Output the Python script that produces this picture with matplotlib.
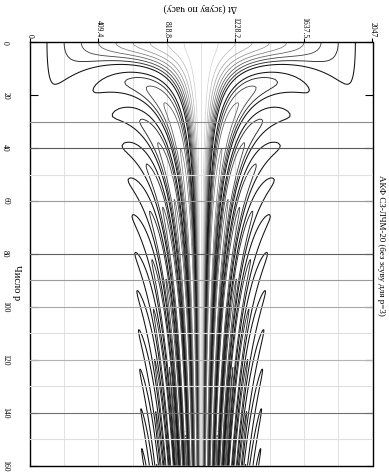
import numpy as np
import matplotlib
matplotlib.use("Agg")
import matplotlib.pyplot as plt

# signal length and the range of the modulation number p
N = 1024
p_values = np.arange(0, 161)
beta_cos = 0.073   # sinusoidal phase term, rad per unit p
k_lfm = 0.04       # linear FM term, fraction of pi per unit p

levels = [0.1, 0.2, 0.3, 0.4, 0.5, 0.6, 0.7, 0.8, 0.9]

x_ticks = [0, 409.4, 818.8, 1228.2, 1637.5, 2047]
x_ticklabels = ["0", "409.4", "818.8", "1228.2", "1637.5", "2047"]
y_ticks = [0, 20, 40, 60, 80, 100, 120, 140, 160]
v_grid = [204.7, 409.4, 614.1, 818.8, 1023.5, 1228.2, 1432.9, 1637.5, 1842.3]
h_grid = [30, 40, 50, 60, 80, 90, 100, 110, 120, 130, 140, 150]

xlabel = "Δt (зсуву по часу)"
ylabel = "Число р"
title = "АКФ СЗ-ЛЧМ-20 (без зсуву для р=3)"


def acf_rows():
    n = np.arange(N)
    u = 2.0 * n / N - 1.0
    rows = []
    for p in p_values:
        phase = beta_cos * p * np.cos(2 * np.pi * n / N) + np.pi * k_lfm * p * u ** 2
        s = np.exp(1j * phase)
        S = np.fft.fft(s, 4 * N)
        r = np.fft.ifft(np.abs(S) ** 2)
        r = np.concatenate([r[-(N - 1):], r[:N]])
        rows.append(np.abs(r) / N)
    return np.array(rows)


plt.rcParams["font.family"] = ["Liberation Serif", "DejaVu Serif"]

fig = plt.figure(figsize=(3.89, 4.72), dpi=100)
ax = fig.add_axes([30 / 389, 1 - 465.5 / 472, 342.5 / 389, 423 / 472])

lags = np.arange(2 * N - 1)
Z = acf_rows()

# light grid under the contours
for gx in v_grid:
    ax.axvline(gx, color="#dcdcdc", lw=0.6, zorder=0)
shades = {30: "#8c8c8c", 40: "#5a5a5a", 50: "#e0e0e0", 60: "#9a9a9a", 80: "#606060",
          90: "#9a9a9a", 100: "#a8a8a8", 110: "#dedede", 120: "#b4b4b4", 130: "#dedede",
          140: "#707070", 150: "#dedede"}
for gy in h_grid:
    ax.axhline(gy, color=shades[gy], lw=0.8, zorder=3)

widths = [0.75, 0.65, 0.6, 0.55, 0.5, 0.5, 0.5, 0.5, 0.5]
ax.contour(lags, p_values, Z, levels=levels, cmap="gray", vmin=0.02, vmax=1.1,
           linewidths=widths, zorder=2)

ax.set_xlim(0, 2047)
ax.set_ylim(160, 0)

ax.xaxis.tick_top()
ax.set_xticks(x_ticks)
ax.set_xticklabels(x_ticklabels, rotation=270, fontsize=5.5)
ax.tick_params(axis="x", direction="out", length=3, width=0.8, pad=0.5)

ax.set_yticks(y_ticks)
ax.set_yticklabels([str(v) for v in y_ticks], rotation=270, fontsize=5.5, va="center")
ax.tick_params(axis="y", direction="in", length=6, width=0.8, pad=15, right=True)

for sp in ax.spines.values():
    sp.set_linewidth(1.0)

fig.text(200 / 389, 1 - 8 / 472, xlabel, rotation=180, ha="center", va="center", fontsize=7)
fig.text(16 / 389, 1 - 283 / 472, ylabel, rotation=270, ha="center", va="center", fontsize=7.5)
fig.text(381 / 389, 1 - 245 / 472, title, rotation=270, ha="center", va="center", fontsize=6.5)

fig.savefig("out.png", dpi=100)
